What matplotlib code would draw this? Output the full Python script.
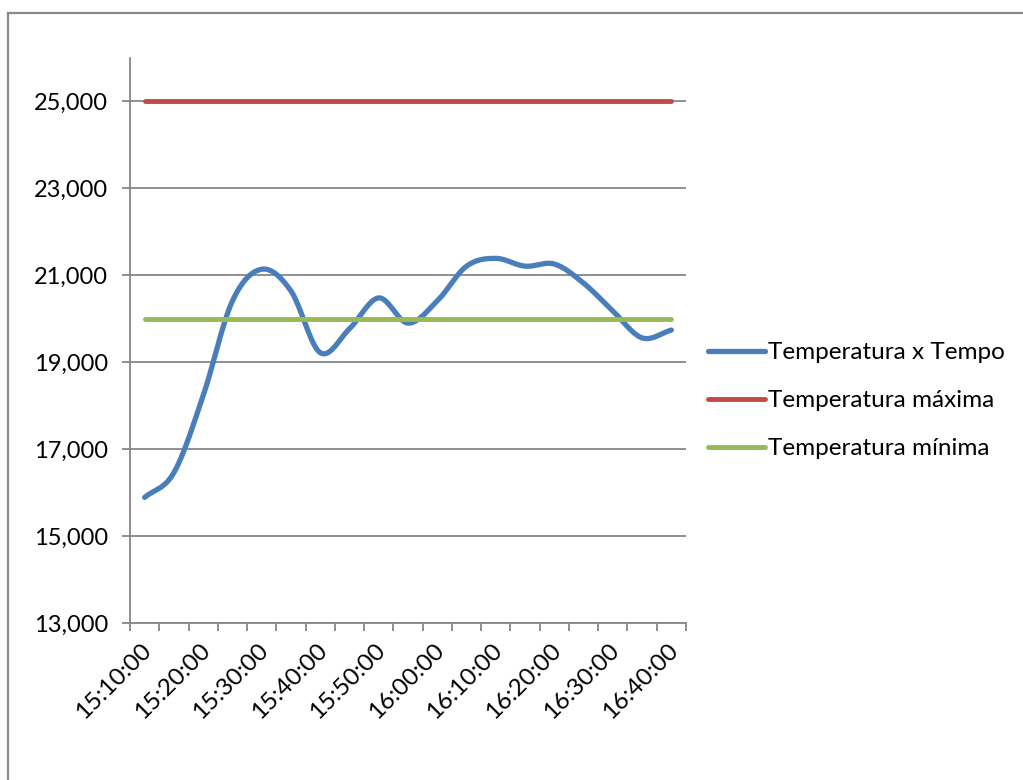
import matplotlib
matplotlib.use("Agg")
import matplotlib.pyplot as plt
from matplotlib.lines import Line2D
import matplotlib.transforms as mtransforms
import numpy as np

plt.rcParams['font.family'] = ['Lato', 'DejaVu Sans']

# 19 readings, every 5 minutes
horarios = ['15:10:00', '15:15:00', '15:20:00', '15:25:00', '15:30:00', '15:35:00',
            '15:40:00', '15:45:00', '15:50:00', '15:55:00', '16:00:00', '16:05:00',
            '16:10:00', '16:15:00', '16:20:00', '16:25:00', '16:30:00', '16:35:00',
            '16:40:00']
temperatura = [15.89, 16.46, 18.23, 20.41, 21.14, 20.64, 19.22, 19.77, 20.48, 19.90,
               20.41, 21.21, 21.39, 21.21, 21.26, 20.82, 20.18, 19.56, 19.74]
temp_max = [25.0] * len(horarios)
temp_min = [20.0] * len(horarios)

nomes = ['Temperatura x Tempo', 'Temperatura máxima', 'Temperatura mínima']
cores = ['#4A7EBB', '#BE4B48', '#98B954']
y_ticks = [13, 15, 17, 19, 21, 23, 25]


def suavizar(x, y, n=20):
    # Catmull-Rom curve through the points (like Excel "smoothed line")
    x = np.asarray(x, float)
    y = np.asarray(y, float)
    px = np.concatenate([[2 * x[0] - x[1]], x, [2 * x[-1] - x[-2]]])
    py = np.concatenate([[2 * y[0] - y[1]], y, [2 * y[-1] - y[-2]]])
    xs, ys = [], []
    t = np.linspace(0, 1, n, endpoint=False)
    for i in range(1, len(px) - 2):
        for p, out in ((px, xs), (py, ys)):
            p0, p1, p2, p3 = p[i - 1], p[i], p[i + 1], p[i + 2]
            out.extend(0.5 * (2 * p1 + (-p0 + p2) * t
                              + (2 * p0 - 5 * p1 + 4 * p2 - p3) * t ** 2
                              + (-p0 + 3 * p1 - 3 * p2 + p3) * t ** 3))
    xs.append(x[-1])
    ys.append(y[-1])
    return np.array(xs), np.array(ys)


fig = plt.figure(figsize=(10.23, 7.8), dpi=100)
ax = fig.add_axes([130 / 1023, 1 - 623 / 780, 556 / 1023, 565 / 780])

idx = np.arange(len(horarios))
sx, sy = suavizar(idx, temperatura)
ax.plot(sx, sy, color=cores[0], lw=3.8, solid_capstyle='round', label=nomes[0], zorder=3)
ax.plot(idx, temp_max, color=cores[1], lw=3.5, solid_capstyle='round', label=nomes[1], zorder=3)
ax.plot(idx, temp_min, color=cores[2], lw=3.5, solid_capstyle='round', label=nomes[2], zorder=3)

ax.set_xlim(-0.5, len(horarios) - 0.5)
ax.set_ylim(13, 26)
ax.set_yticks(y_ticks)
ax.set_yticklabels([f'{v:.3f}'.replace('.', ',') for v in y_ticks], fontsize=17)
ax.yaxis.grid(True, color='#878787', lw=1.3)
ax.set_axisbelow(True)

ax.set_xticks(np.arange(-0.5, len(horarios)), minor=False)
ax.set_xticklabels([])
ax.set_xticks(idx[::2], minor=True)
ax.set_xticklabels(horarios[::2], minor=True, rotation=45, ha='right', va='top',
                   rotation_mode='anchor', fontsize=17.5)
ax.tick_params(axis='x', which='minor', length=0, pad=12)
ax.tick_params(axis='both', which='major', length=6, width=1.3, color='#878787',
               direction='out', pad=10)
shift = mtransforms.ScaledTranslation(-4 / 100, 0, fig.dpi_scale_trans)
for lbl in ax.get_xticklabels(minor=True):
    lbl.set_transform(lbl.get_transform() + shift)

for s in ['top', 'right']:
    ax.spines[s].set_visible(False)
for s in ['left', 'bottom']:
    ax.spines[s].set_color('#878787')
    ax.spines[s].set_linewidth(1.3)

fig.legend(loc='upper left', bbox_to_anchor=(708 / 1023, 1 - 342 / 780), frameon=False,
           fontsize=17.5, handlelength=2.35, handletextpad=0.12, labelspacing=1.12,
           borderaxespad=0, borderpad=0)

# outer chart border (left and top visible)
fig.add_artist(Line2D([8 / 1023, 8 / 1023], [0, 1 - 13 / 780], color='#8A8A8A', lw=1.6))
fig.add_artist(Line2D([8 / 1023, 1], [1 - 13 / 780, 1 - 13 / 780], color='#8A8A8A', lw=1.6))

fig.savefig('out.png', dpi=100)
